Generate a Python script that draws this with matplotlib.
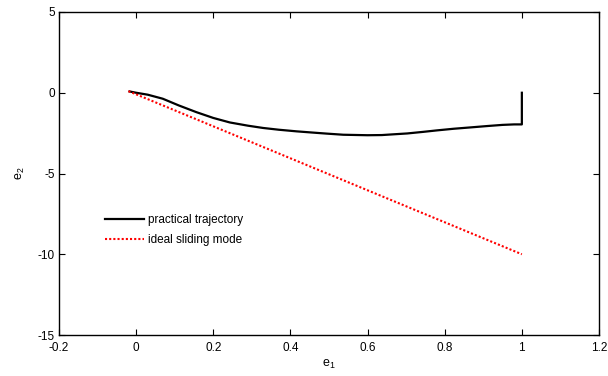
import matplotlib
matplotlib.use("Agg")
import matplotlib.pyplot as plt

plt.rcParams['font.family'] = ['Liberation Sans', 'DejaVu Sans']
plt.rcParams['mathtext.fontset'] = 'custom'
plt.rcParams['mathtext.rm'] = 'Liberation Sans'
plt.rcParams['mathtext.it'] = 'Liberation Sans'
plt.rcParams['axes.unicode_minus'] = False

# practical trajectory (e1, e2)
e1_prac = [-0.017, 0.0, 0.03, 0.069, 0.11, 0.156, 0.2, 0.243, 0.29, 0.329, 0.37, 0.416,
           0.46, 0.494, 0.537, 0.6, 0.637, 0.663, 0.703, 0.745, 0.78, 0.823, 0.87,
           0.911, 0.95, 0.98, 1.0, 1.0]
e2_prac = [0.08, 0.0, -0.12, -0.37, -0.78, -1.2, -1.56, -1.84, -2.04, -2.18, -2.29, -2.39,
           -2.47, -2.53, -2.6, -2.63, -2.62, -2.58, -2.52, -2.42, -2.33, -2.23, -2.14,
           -2.06, -1.99, -1.96, -1.96, 0.0]
# ideal sliding mode
e1_ideal = [-0.02, 1.0]
e2_ideal = [0.1, -10.0]

xticks = [-0.2, 0, 0.2, 0.4, 0.6, 0.8, 1, 1.2]
xticklabels = ['-0.2', '0', '0.2', '0.4', '0.6', '0.8', '1', '1.2']
yticks = [-15, -10, -5, 0, 5]

fig = plt.figure(figsize=(6.08, 3.76), dpi=100)
ax = fig.add_axes([59 / 608, 41 / 376, 540 / 608, 323 / 376])
ax.plot(e1_prac, e2_prac, color='black', lw=1.6, label='practical trajectory')
ax.plot(e1_ideal, e2_ideal, color='red', lw=1.5, ls=(0, (1, 1)), label='ideal sliding mode')
ax.set_xlim(-0.2, 1.2)
ax.set_ylim(-15, 5)
ax.set_xticks(xticks)
ax.set_xticklabels(xticklabels)
ax.set_yticks(yticks)
ax.tick_params(direction='in', top=True, right=True, labelsize=8.5, length=4, width=0.8, pad=3)
ax.tick_params(axis='x', pad=5)
for s in ax.spines.values():
    s.set_linewidth(1.0)
ax.set_xlabel('e$_1$', fontsize=9, labelpad=3)
ax.set_ylabel('e$_2$', fontsize=9, labelpad=8)
ax.legend(loc='center left', bbox_to_anchor=(0.065, 0.325), frameon=False, fontsize=8.5,
          handlelength=3.3, handletextpad=0.4, labelspacing=0.7)
fig.savefig('out.png', dpi=100)
